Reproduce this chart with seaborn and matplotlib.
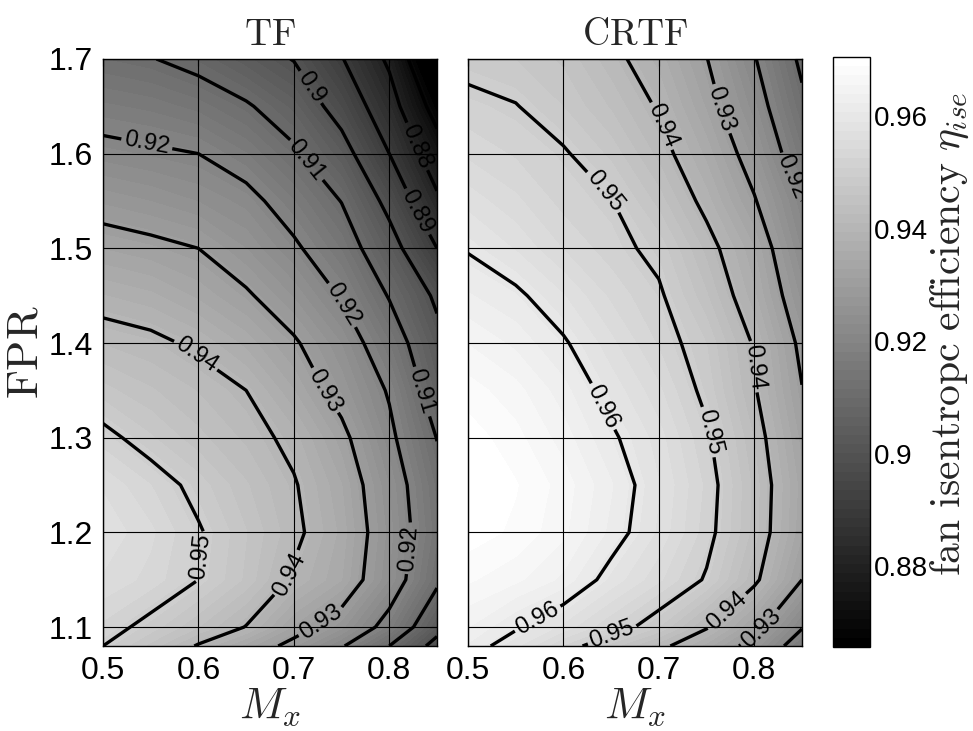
import numpy as np
import pandas as pd
import matplotlib
matplotlib.use("Agg")
import matplotlib.pyplot as plt
import seaborn as sns
from matplotlib.colors import Normalize
from matplotlib.cm import ScalarMappable
from matplotlib.ticker import FuncFormatter

# Flight Mach number and fan pressure ratio grid
mach = [0.50, 0.55, 0.60, 0.65, 0.70, 0.75, 0.80, 0.85]
fpr = [1.08, 1.10, 1.15, 1.20, 1.25, 1.30, 1.35, 1.40, 1.45, 1.50, 1.55, 1.60, 1.65, 1.70]

# Fan isentropic efficiency, one row per FPR value, one column per Mach number
eta_tf = [
    [0.9500, 0.9453, 0.9395, 0.9337, 0.9282, 0.9207, 0.9100, 0.8970],
    [0.9520, 0.9485, 0.9443, 0.9398, 0.9325, 0.9268, 0.9172, 0.9030],
    [0.9555, 0.9535, 0.9500, 0.9455, 0.9392, 0.9345, 0.9245, 0.9115],
    [0.9570, 0.9545, 0.9505, 0.9460, 0.9413, 0.9355, 0.9255, 0.9135],
    [0.9555, 0.9525, 0.9485, 0.9445, 0.9405, 0.9345, 0.9245, 0.9125],
    [0.9515, 0.9478, 0.9448, 0.9422, 0.9385, 0.9318, 0.9217, 0.9098],
    [0.9465, 0.9445, 0.9425, 0.9400, 0.9345, 0.9275, 0.9193, 0.9055],
    [0.9425, 0.9413, 0.9390, 0.9355, 0.9308, 0.9245, 0.9148, 0.9025],
    [0.9378, 0.9365, 0.9340, 0.9308, 0.9260, 0.9195, 0.9095, 0.8985],
    [0.9327, 0.9315, 0.9300, 0.9262, 0.9212, 0.9145, 0.9037, 0.8900],
    [0.9275, 0.9262, 0.9245, 0.9222, 0.9165, 0.9098, 0.8975, 0.8815],
    [0.9220, 0.9210, 0.9200, 0.9165, 0.9112, 0.9035, 0.8900, 0.8745],
    [0.9168, 0.9158, 0.9140, 0.9108, 0.9058, 0.8965, 0.8840, 0.8660],
    [0.9115, 0.9103, 0.9078, 0.9038, 0.8997, 0.8905, 0.8785, 0.8570],
]
eta_crtf = [
    [0.9620, 0.9578, 0.9522, 0.9467, 0.9415, 0.9353, 0.9275, 0.9155],
    [0.9640, 0.9605, 0.9568, 0.9525, 0.9475, 0.9405, 0.9322, 0.9205],
    [0.9675, 0.9660, 0.9635, 0.9585, 0.9545, 0.9495, 0.9412, 0.9300],
    [0.9698, 0.9685, 0.9660, 0.9618, 0.9570, 0.9515, 0.9435, 0.9330],
    [0.9705, 0.9690, 0.9665, 0.9625, 0.9575, 0.9520, 0.9437, 0.9335],
    [0.9698, 0.9678, 0.9648, 0.9607, 0.9565, 0.9508, 0.9425, 0.9320],
    [0.9680, 0.9662, 0.9630, 0.9585, 0.9545, 0.9488, 0.9405, 0.9302],
    [0.9655, 0.9635, 0.9605, 0.9562, 0.9522, 0.9475, 0.9395, 0.9285],
    [0.9625, 0.9608, 0.9575, 0.9537, 0.9507, 0.9445, 0.9365, 0.9255],
    [0.9597, 0.9572, 0.9540, 0.9515, 0.9487, 0.9420, 0.9345, 0.9225],
    [0.9567, 0.9545, 0.9518, 0.9502, 0.9452, 0.9385, 0.9305, 0.9200],
    [0.9537, 0.9522, 0.9505, 0.9470, 0.9420, 0.9355, 0.9270, 0.9150],
    [0.9513, 0.9502, 0.9475, 0.9440, 0.9395, 0.9325, 0.9235, 0.9115],
    [0.9485, 0.9475, 0.9455, 0.9415, 0.9370, 0.9302, 0.9205, 0.9085],
]

panel_titles = ["TF", "CRTF"]
line_levels = [0.87, 0.88, 0.89, 0.90, 0.91, 0.92, 0.93, 0.94, 0.95, 0.96]
x_ticks = [0.5, 0.6, 0.7, 0.8]
y_ticks = [1.1, 1.2, 1.3, 1.4, 1.5, 1.6, 1.7]
cbar_ticks = [0.88, 0.90, 0.92, 0.94, 0.96]
eta_range = (0.8656, 0.9705)

# where the inline contour labels sit (Mx, FPR)
label_spots = {
    "TF": [(0.546, 1.611), (0.7115, 1.592), (0.7185, 1.671), (0.830, 1.608),
           (0.830, 1.539), (0.750, 1.440), (0.596, 1.385), (0.736, 1.352),
           (0.832, 1.348), (0.603, 1.174), (0.703, 1.153), (0.823, 1.183),
           (0.729, 1.104)],
    "CRTF": [(0.6406, 1.558), (0.705, 1.630), (0.770, 1.649), (0.8396, 1.576),
             (0.6476, 1.336), (0.752, 1.306), (0.7995, 1.375), (0.574, 1.107),
             (0.651, 1.092), (0.775, 1.113), (0.810, 1.095)],
}

frames = {
    "TF": pd.DataFrame(eta_tf, index=fpr, columns=mach),
    "CRTF": pd.DataFrame(eta_crtf, index=fpr, columns=mach),
}

sns.set_theme(style="white")
plt.rcParams.update({
    "font.family": ["Liberation Sans", "DejaVu Sans"],
    "mathtext.fontset": "cm",
    "axes.edgecolor": "black",
    "axes.linewidth": 1.0,
    "xtick.color": "black",
    "ytick.color": "black",
    "xtick.direction": "in",
    "ytick.direction": "in",
    "xtick.major.size": 5,
    "ytick.major.size": 5,
    "xtick.major.width": 0.8,
    "ytick.major.width": 0.8,
})

W, H = 973, 731
fig = plt.figure(figsize=(W / 100, H / 100), dpi=100)
fig.patch.set_facecolor("white")
axes = [
    fig.add_axes([103 / W, 85 / H, 334 / W, 587 / H]),
    fig.add_axes([468 / W, 85 / H, 334 / W, 587 / H]),
]
cax = fig.add_axes([833 / W, 84 / H, 37 / W, 590 / H])

cmap = plt.get_cmap("gray", 64)
norm = Normalize(*eta_range)
fill_levels = np.linspace(eta_range[0], eta_range[1], 65)
fmt_g = FuncFormatter(lambda v, pos: f"{v:g}")

for ax, name in zip(axes, panel_titles):
    df = frames[name]
    X, Y = np.meshgrid(df.columns.values, df.index.values)
    Z = df.values
    ax.contourf(X, Y, Z, levels=fill_levels, cmap=cmap, norm=norm,
                extend="both", zorder=0)
    cs = ax.contour(X, Y, Z, levels=line_levels, colors="black",
                    linewidths=2.4, zorder=3)
    ax.clabel(cs, fmt=lambda v: f"{v:g}", fontsize=17, inline=True,
              inline_spacing=3, manual=label_spots[name], zorder=4)

    ax.set_xlim(0.5, 0.85)
    ax.set_ylim(1.08, 1.70)
    ax.set_xticks(x_ticks)
    ax.set_yticks(y_ticks)
    ax.xaxis.set_major_formatter(fmt_g)
    ax.yaxis.set_major_formatter(fmt_g)
    ax.tick_params(labelsize=23, pad=7, top=True, right=True)
    ax.grid(True, color="black", linewidth=0.8, linestyle="-")
    ax.set_axisbelow(False)
    for sp in ax.spines.values():
        sp.set_zorder(5)
    ax.set_title(r"$\mathrm{%s}$" % name, fontsize=27, pad=10)
    ax.set_xlabel(r"$M_x$", fontsize=32, labelpad=0)

axes[0].set_ylabel(r"$\mathrm{FPR}$", fontsize=32, labelpad=2)
axes[1].tick_params(labelleft=False)

sm = ScalarMappable(norm=norm, cmap=cmap)
cbar = fig.colorbar(sm, cax=cax)
cbar.set_ticks(cbar_ticks)
cbar.ax.yaxis.set_major_formatter(fmt_g)
cbar.ax.tick_params(labelsize=20, direction="in", left=True, right=True,
                    length=5, pad=3)
cbar.outline.set_linewidth(1.0)
cbar.set_label(r"$\mathrm{fan\ isentropc\ efficiency}\ \eta_{ise}$",
               fontsize=30)
cbar.ax.yaxis.set_label_coords(2.6, 0.53)

fig.savefig("out.png", dpi=100, facecolor="white")
